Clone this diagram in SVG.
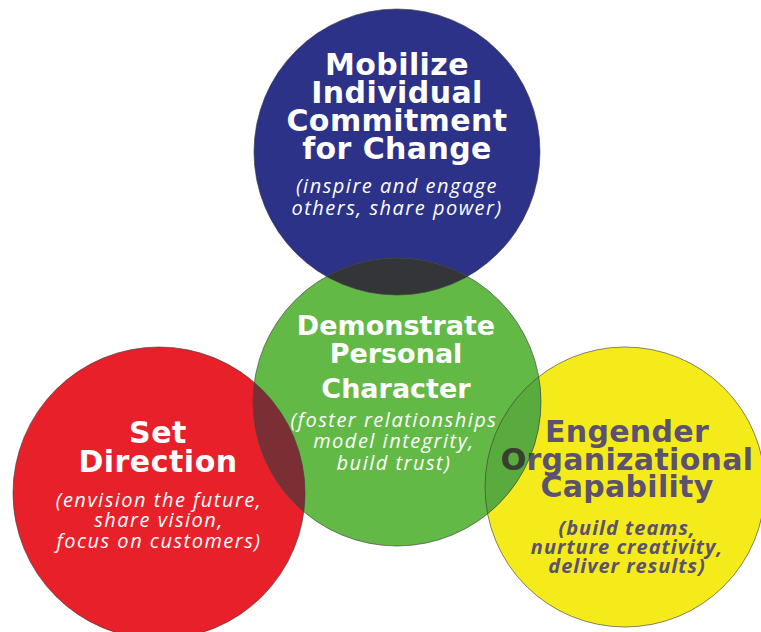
<svg xmlns="http://www.w3.org/2000/svg" width="761" height="632" viewBox="0 0 761 632">
<style>
.h{font-family:"DejaVu Sans","Liberation Sans",sans-serif;font-weight:bold;text-anchor:middle}
.s{font-family:"Open Sans","Noto Sans",sans-serif;font-style:italic;text-anchor:middle;font-size:20px;letter-spacing:1.5px}
.b{font-weight:bold;letter-spacing:1px}
.w{fill:#ffffff}
.p{fill:#5b5171}
.o{fill:none;stroke:#3c3c3c;stroke-width:0.9;stroke-opacity:0.7}
</style>
<defs>
<clipPath id="cg"><circle cx="397" cy="402" r="144"/></clipPath>
</defs>
<rect width="761" height="632" fill="#ffffff"/>
<g id="blue">
<circle cx="397" cy="152" r="143" fill="#2c3288"/>
</g>
<g id="red">
<circle cx="159" cy="493" r="146" fill="#e8202a"/>
</g>
<g id="yellow">
<circle cx="625" cy="487" r="140" fill="#f5ea1a"/>
</g>
<g id="green">
<circle cx="397" cy="402" r="144" fill="#63b946"/>
</g>
<g id="overlaps">
<g clip-path="url(#cg)"><circle cx="397" cy="152" r="143" fill="#333538"/></g>
<g clip-path="url(#cg)"><circle cx="159" cy="493" r="146" fill="#7b2f35"/></g>
<g clip-path="url(#cg)"><circle cx="625" cy="487" r="140" fill="#59ab3d"/></g>
</g>
<g id="outlines">
<circle class="o" cx="397" cy="152" r="143"/>
<circle class="o" cx="159" cy="493" r="146"/>
<circle class="o" cx="625" cy="487" r="140"/>
<circle class="o" cx="397" cy="402" r="144"/>
</g>
<g id="blue-text">
<text class="h w" x="397" y="75" font-size="30" letter-spacing="0.4">Mobilize</text>
<text class="h w" x="397" y="103" font-size="30" letter-spacing="0.4">Individual</text>
<text class="h w" x="397" y="131" font-size="30" letter-spacing="0.4">Commitment</text>
<text class="h w" x="397" y="159" font-size="30" letter-spacing="0.4">for Change</text>
<text class="s w" x="397" y="193">(inspire and engage</text>
<text class="s w" x="397" y="215">others, share power)</text>
</g>
<g id="red-text">
<text class="h w" x="158" y="443" font-size="30" letter-spacing="0.5">Set</text>
<text class="h w" x="158" y="472" font-size="30" letter-spacing="0.5">Direction</text>
<text class="s w" x="159" y="507">(envision the future,</text>
<text class="s w" x="159" y="527">share vision,</text>
<text class="s w" x="159" y="548">focus on customers)</text>
</g>
<g id="yellow-text">
<text class="h p" x="627" y="442" font-size="30" letter-spacing="0.3">Engender</text>
<text class="h p" x="627" y="470" font-size="30" letter-spacing="0.3">Organizational</text>
<text class="h p" x="627" y="497" font-size="30" letter-spacing="0.3">Capability</text>
<g clip-path="url(#cg)">
<text class="h" fill="#36402f" x="627" y="470" font-size="30" letter-spacing="0.3">Organizational</text>
</g>
<text class="s b p" x="627" y="535">(build teams,</text>
<text class="s b p" x="627" y="554">nurture creativity,</text>
<text class="s b p" x="627" y="573">deliver results)</text>
</g>
<g id="green-text">
<text class="h w" x="396" y="335" font-size="27">Demonstrate</text>
<text class="h w" x="396" y="363" font-size="27">Personal</text>
<text class="h w" x="396" y="398" font-size="27">Character</text>
<text class="s w" x="394" y="427">(foster relationships</text>
<text class="s w" x="394" y="448">model integrity,</text>
<text class="s w" x="394" y="470">build trust)</text>
</g>
<g id="connectors"></g>
</svg>
